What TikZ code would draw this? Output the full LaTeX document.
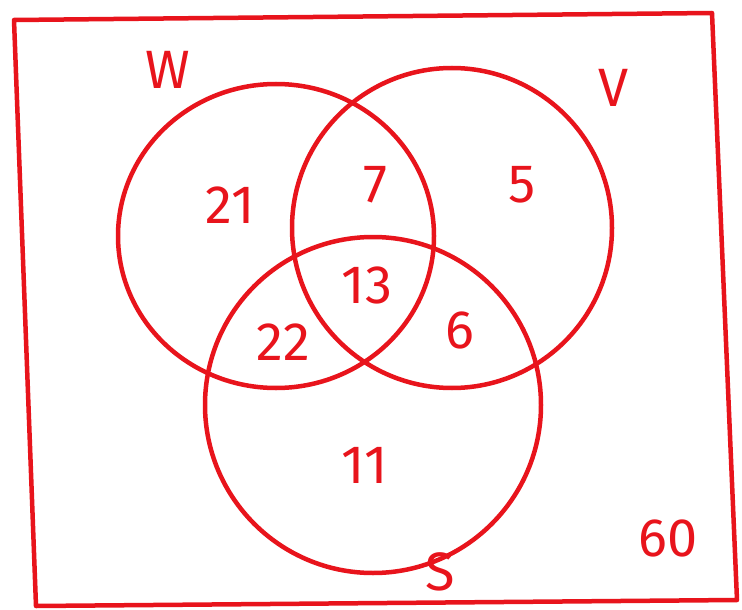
\documentclass[tikz,border=0pt]{standalone}
\usepackage{fontspec}
\setmainfont{Fira Sans}
\definecolor{pen}{HTML}{E8141C}
\begin{document}
\begin{tikzpicture}[x=1pt,y=-1pt,
  stroke/.style={draw=pen,line width=4.5pt,line cap=round,line join=round},
  lbl/.style={text=pen,font=\fontsize{54}{54}\selectfont,inner sep=0pt},
  num/.style={text=pen,font=\fontsize{54}{54}\selectfont}]
\useasboundingbox (0,0) rectangle (742,610);
\fill[white] (0,0) rectangle (742,610);
% outer frame
\draw[stroke] (14,20) -- (712,13) -- (737,600) -- (36,606) -- cycle;
% circles
\draw[stroke] (276,236) ellipse [x radius=158, y radius=152];
\draw[stroke] (452,228) ellipse [x radius=160, y radius=160];
\draw[stroke] (373,405) ellipse [x radius=168, y radius=168];
% labels
\node[lbl] (w) at (168,70) {W};
\node[lbl] (v) at (614,88) {V};
\node[lbl] (s) at (440,572) {S};
\node[num] (n21) at (230,205) {21};
\node[num] (n7) at (375,185) {7};
\node[num] (n5) at (522,185) {5};
\node[num] (n13) at (367,285) {13};
\node[num] (n22) at (283,342) {22};
\node[num] (n6) at (460,330) {6};
\node[num] (n11) at (365,465) {11};
\node[num] (n60) at (668,538) {60};
\end{tikzpicture}
\end{document}
